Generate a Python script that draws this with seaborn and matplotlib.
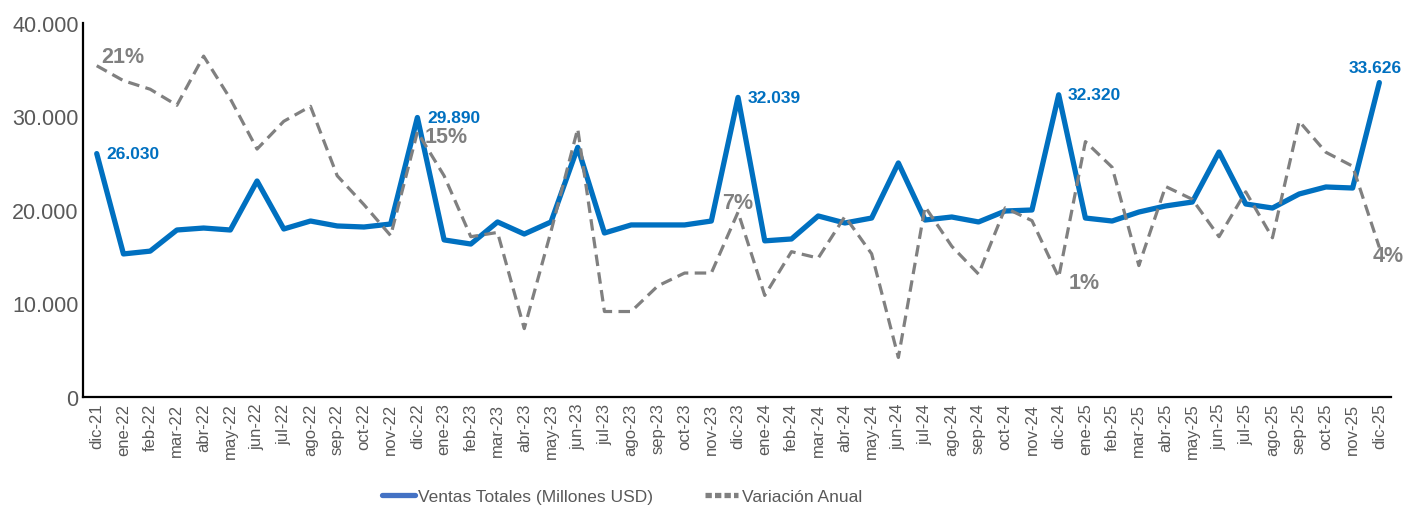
import pandas as pd
import matplotlib
matplotlib.use("Agg")
import matplotlib.pyplot as plt
from matplotlib.lines import Line2D
from matplotlib.ticker import FuncFormatter
import seaborn as sns

# meses (dic-21 .. dic-25)
meses = ['dic-21', 'ene-22', 'feb-22', 'mar-22', 'abr-22', 'may-22', 'jun-22', 'jul-22',
         'ago-22', 'sep-22', 'oct-22', 'nov-22', 'dic-22', 'ene-23', 'feb-23', 'mar-23',
         'abr-23', 'may-23', 'jun-23', 'jul-23', 'ago-23', 'sep-23', 'oct-23', 'nov-23',
         'dic-23', 'ene-24', 'feb-24', 'mar-24', 'abr-24', 'may-24', 'jun-24', 'jul-24',
         'ago-24', 'sep-24', 'oct-24', 'nov-24', 'dic-24', 'ene-25', 'feb-25', 'mar-25',
         'abr-25', 'may-25', 'jun-25', 'jul-25', 'ago-25', 'sep-25', 'oct-25', 'nov-25',
         'dic-25']

# ventas totales, millones USD
ventas = [26030, 15300, 15600, 17860, 18070, 17860, 23100, 17970, 18820, 18290, 18180,
          18500, 29890, 16800, 16360, 18720, 17430, 18720, 26700, 17540, 18400, 18400,
          18400, 18820, 32039, 16700, 16900, 19360, 18610, 19140, 25030, 18930, 19250,
          18720, 19890, 20000, 32320, 19140, 18820, 19780, 20430, 20850, 26200, 20640,
          20210, 21710, 22460, 22350, 33626]

# variacion anual (%)
variacion = [21.0, 19.6, 18.8, 17.3, 21.9, 17.9, 13.2, 15.8, 17.2, 10.7, 8.0, 5.1,
             14.8, 10.7, 5.0, 5.4, -3.6, 5.5, 15.1, -2.0, -2.0, 0.4, 1.6, 1.6,
             7.3, -0.5, 3.6, 3.0, 6.9, 3.4, -6.3, 7.8, 4.1, 1.5, 7.7, 6.5,
             1.2, 13.9, 11.5, 2.3, 9.7, 8.5, 5.0, 9.2, 4.9, 15.8, 12.9, 11.6,
             4.0]

df = pd.DataFrame({'mes': meses, 'ventas': ventas, 'variacion': [v / 100 for v in variacion]})

azul = '#0070C0'
gris = '#808080'
texto = '#595959'

sns.set_style('white')
plt.rcParams['font.family'] = ['Liberation Sans', 'DejaVu Sans']

fig = plt.figure(figsize=(14.04, 5.10), dpi=100)
ax = fig.add_axes([0.059, 0.2196, 0.932, 0.7334])

sns.lineplot(data=df, x='mes', y='ventas', ax=ax, color=azul, linewidth=3.8, sort=False)
ax.set_ylim(0, 40000)
ax.set_yticks([0, 10000, 20000, 30000, 40000])
ax.yaxis.set_major_formatter(FuncFormatter(lambda v, p: f'{int(v):,}'.replace(',', '.')))
ax.set_xlim(-0.52, len(meses) - 0.55)
ax.set_xlabel('')
ax.set_ylabel('')
ax.tick_params(axis='y', labelsize=15.5, labelcolor=texto, length=0, pad=3)
ax.tick_params(axis='x', labelsize=12, labelcolor=texto, length=0, pad=4, rotation=90)
for s in ['top', 'right']:
    ax.spines[s].set_visible(False)
for s in ['left', 'bottom']:
    ax.spines[s].set_color('black')
    ax.spines[s].set_linewidth(1.6)

ax2 = ax.twinx()
sns.lineplot(data=df, x='mes', y='variacion', ax=ax2, color=gris, linewidth=2.3, sort=False)
ax2.lines[0].set_dashes((3.6, 2.0))
ax2.set_ylim(-0.10, 0.25)
ax2.set_ylabel('')
ax2.set_yticks([])
for s in ax2.spines.values():
    s.set_visible(False)

# etiquetas de datos
etq_ventas = {0: (10, 0, 'left'), 12: (10, 0, 'left'), 24: (10, 0, 'left'),
              36: (9, 0, 'left'), 48: (-4, 15, 'center')}
for i, (dx, dy, ha) in etq_ventas.items():
    ax.annotate(f'{ventas[i]:,}'.replace(',', '.'), (i, ventas[i]), xytext=(dx, dy),
                textcoords='offset pixels', ha=ha, va='center', color=azul,
                fontsize=12.5, fontweight='bold')

etq_var = {0: (5, 9, 'left'), 12: (7, -5, 'left'), 24: (0, 10, 'center'),
           36: (10, -5, 'left'), 48: (-7, -8, 'left')}
for i, (dx, dy, ha) in etq_var.items():
    ax2.annotate(f'{variacion[i]:.0f}%', (i, variacion[i] / 100), xytext=(dx, dy),
                 textcoords='offset pixels', ha=ha, va='center', color=gris,
                 fontsize=15.5, fontweight='bold')

handles = [Line2D([], [], color='#4472C4', linewidth=3.8),
           Line2D([], [], color=gris, linewidth=3.8, dashes=(1.2, 0.6))]
fig.legend(handles, ['Ventas Totales (Millones USD)', 'Variación Anual'],
           loc='center', bbox_to_anchor=(0.443, 0.024), ncol=2, frameon=False,
           fontsize=12.5, labelcolor=texto, handlelength=1.9, handletextpad=0.2,
           columnspacing=3.0)

fig.savefig('out.png', dpi=100)
